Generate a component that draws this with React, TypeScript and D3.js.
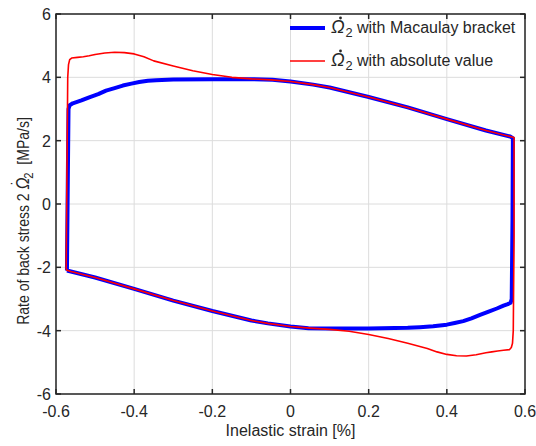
import React from "react";
import * as d3 from "d3";

const xTicks = [-0.6, -0.4, -0.2, 0, 0.2, 0.4, 0.6];
const yTicks = [-6, -4, -2, 0, 2, 4, 6];

// Macaulay bracket loop (upper branch then lower branch)
const blueX = [
  -0.572, -0.570, -0.568, -0.565, -0.557, -0.535, -0.515, -0.492, -0.472, -0.45, -0.429, -0.407, -0.387,
  -0.365, -0.344, -0.3, -0.2, -0.1, -0.046, 0, 0.058, 0.1, 0.2, 0.3, 0.4, 0.5, 0.562, 0.569,
  0.568, 0.566, 0.563, 0.556, 0.545, 0.528, 0.507, 0.485, 0.463, 0.442, 0.42, 0.4, 0.365, 0.331, 0.3,
  0.2, 0.1, 0.046, 0, -0.058, -0.1, -0.2, -0.3, -0.4, -0.5, -0.562, -0.572,
];
const blueY = [
  -2.1, 0.5, 3.0, 3.12, 3.18, 3.27, 3.37, 3.47, 3.58, 3.66, 3.74, 3.8, 3.85,
  3.89, 3.91, 3.93, 3.94, 3.94, 3.92, 3.87, 3.77, 3.68, 3.38, 3.05, 2.68, 2.32, 2.13, 2.08,
  -0.5, -3.0, -3.12, -3.16, -3.21, -3.3, -3.4, -3.5, -3.61, -3.7, -3.76, -3.81, -3.86, -3.89, -3.91,
  -3.93, -3.93, -3.92, -3.87, -3.77, -3.68, -3.38, -3.05, -2.68, -2.32, -2.13, -2.1,
];

// absolute value loop
const redX = [
  -0.574, -0.572, -0.570, -0.568, -0.565, -0.56, -0.545, -0.53, -0.515, -0.5, -0.475, -0.45, -0.425,
  -0.4, -0.375, -0.35, -0.3, -0.25, -0.2, -0.15, -0.1, -0.05, 0, 0.058, 0.1, 0.2, 0.3, 0.4, 0.5,
  0.562, 0.572,
  0.572, 0.570, 0.568, 0.565, 0.56, 0.545, 0.53, 0.515, 0.5, 0.475, 0.45, 0.425,
  0.4, 0.375, 0.35, 0.3, 0.25, 0.2, 0.15, 0.1, 0.05, 0, -0.058, -0.1, -0.2, -0.3, -0.4, -0.5,
  -0.562, -0.574,
];
const redY = [
  -2.08, 1.0, 4.0, 4.4, 4.56, 4.61, 4.63, 4.65, 4.68, 4.72, 4.77, 4.79, 4.78,
  4.74, 4.65, 4.52, 4.36, 4.21, 4.09, 4.0, 3.95, 3.92, 3.87, 3.77, 3.68, 3.38, 3.05, 2.68, 2.32,
  2.13, 2.1,
  -1.0, -4.0, -4.4, -4.53, -4.6, -4.62, -4.64, -4.67, -4.7, -4.76, -4.8, -4.79,
  -4.75, -4.67, -4.56, -4.4, -4.25, -4.12, -4.02, -3.96, -3.92, -3.87, -3.77, -3.68, -3.38, -3.05, -2.68, -2.32,
  -2.13, -2.08,
];

const legendLabels = ["with Macaulay bracket", "with absolute value"];
const legendColors = ["#0000ff", "#ff0000"];
const legendWidths = [4, 1.6];

const W = 536;
const H = 446;
const margin = { top: 14, right: 11, bottom: 52, left: 56 };
const font = "'Liberation Sans', Arial, Helvetica, sans-serif";
const axisColor = "#262626";

// italic Omega with a dot on top (optional) and a subscript 2
function Omega2({ size, dot = true }: { size: number; dot?: boolean }) {
  if (!dot) {
    return (
      <>
        <tspan fontStyle="italic" fontSize={size * 1.12}>{"\u03A9"}</tspan>
        <tspan fontSize={size * 0.8} dx={size * 0.05} dy={size * 0.25}>2</tspan>
        <tspan dy={-size * 0.25}>{"\u00A0"}</tspan>
      </>
    );
  }
  return (
    <>
      <tspan fontStyle="italic" fontSize={size * 1.12}>{"\u03A9"}</tspan>
      <tspan dx={-size * 0.55} dy={-size * 0.33}>{"\u02D9"}</tspan>
      <tspan fontSize={size * 0.8} dx={size * 0.14} dy={size * 0.58}>2</tspan>
      <tspan dy={-size * 0.25}>{"\u00A0"}</tspan>
    </>
  );
}

export default function App() {
  const x = d3.scaleLinear().domain([-0.6, 0.6]).range([margin.left, W - margin.right]);
  const y = d3.scaleLinear().domain([-6, 6]).range([H - margin.bottom, margin.top]);

  const line = d3
    .line<[number, number]>()
    .x((d) => x(d[0]))
    .y((d) => y(d[1]))
    .curve(d3.curveLinear);

  const blue = blueX.map((v, i) => [v, blueY[i]] as [number, number]);
  const red = redX.map((v, i) => [v, redY[i]] as [number, number]);

  const x0 = x(-0.6), x1 = x(0.6), y0 = y(-6), y1 = y(6);
  const tl = 5;
  const legendY = [28, 61];

  return (
    <svg width={W} height={H} style={{ position: "absolute", left: 0, top: 0, background: "#fff" }} fontFamily={font}>
      <rect x={0} y={0} width={W} height={H} fill="#fff" />
      {/* grid */}
      {xTicks.map((t) => (
        <line key={"gx" + t} x1={x(t)} x2={x(t)} y1={y0} y2={y1} stroke="#dcdcdc" strokeWidth={1} />
      ))}
      {yTicks.map((t) => (
        <line key={"gy" + t} x1={x0} x2={x1} y1={y(t)} y2={y(t)} stroke="#dcdcdc" strokeWidth={1} />
      ))}

      {/* curves */}
      <path d={line(blue) || ""} fill="none" stroke="#0000ff" strokeWidth={4} strokeLinejoin="round" />
      <path d={line(red) || ""} fill="none" stroke="#ff0000" strokeWidth={1.6} strokeLinejoin="round" />

      {/* box + ticks */}
      <rect x={x0} y={y1} width={x1 - x0} height={y0 - y1} fill="none" stroke={axisColor} strokeWidth={1.5} />
      {xTicks.map((t) => (
        <g key={"tx" + t}>
          <line x1={x(t)} x2={x(t)} y1={y0} y2={y0 - tl} stroke={axisColor} strokeWidth={1.5} />
          <line x1={x(t)} x2={x(t)} y1={y1} y2={y1 + tl} stroke={axisColor} strokeWidth={1.5} />
          <text x={x(t)} y={y0 + 23} textAnchor="middle" fontSize={16} fill={axisColor}>
            {String(t)}
          </text>
        </g>
      ))}
      {yTicks.map((t) => (
        <g key={"ty" + t}>
          <line x1={x0} x2={x0 + tl} y1={y(t)} y2={y(t)} stroke={axisColor} strokeWidth={1.5} />
          <line x1={x1} x2={x1 - tl} y1={y(t)} y2={y(t)} stroke={axisColor} strokeWidth={1.5} />
          <text x={x0 - 5} y={y(t) + 6} textAnchor="end" fontSize={16} fill={axisColor}>
            {String(t)}
          </text>
        </g>
      ))}

      {/* axis labels */}
      <text x={(x0 + x1) / 2} y={436} textAnchor="middle" fontSize={16} fill={axisColor}>
        Inelastic strain [%]
      </text>
      <text transform={`translate(29,221) rotate(-90) scale(1,1.2)`} textAnchor="middle" fontSize={14} fill={axisColor}>
        Rate of back stress 2 <Omega2 size={14} /> [MPa/s]
      </text>

      {/* legend */}
      {legendLabels.map((lab, i) => (
        <g key={lab}>
          <line x1={290} x2={325} y1={legendY[i]} y2={legendY[i]} stroke={legendColors[i]} strokeWidth={legendWidths[i]} />
          <circle cx={340.5} cy={legendY[i] - 10} r={1.4} fill={axisColor} />
          <text x={331} y={legendY[i] + 5} fontSize={16} fill={axisColor}>
            <Omega2 size={16} dot={false} />{lab}
          </text>
        </g>
      ))}
    </svg>
  );
}
